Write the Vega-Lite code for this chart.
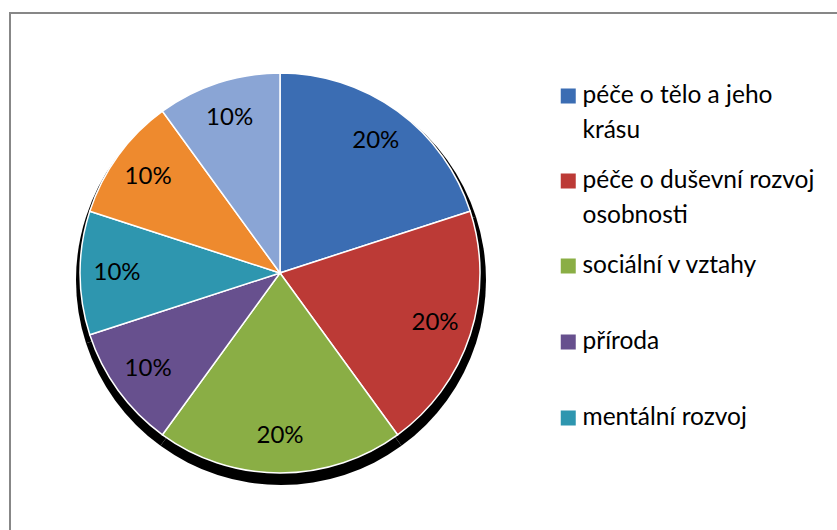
{
  "$schema": "https://vega.github.io/schema/vega-lite/v6.json",
  "width": 837,
  "height": 530,
  "autosize": {"type": "fit", "contains": "padding"},
  "padding": {"left": 10, "top": 13, "right": -2, "bottom": -2},
  "background": "white",
  "view": {"stroke": "#878787", "strokeWidth": 2},
  "config": {
    "view": {"stroke": "#878787", "strokeWidth": 2},
    "font": "Lato",
    "style": {"guide-label": {"lineHeight": 35}}
  },
  "data": {
    "values": [
      {"kategorie": "péče o tělo a jeho krásu", "poradi": 1, "podil": 0.2},
      {"kategorie": "péče o duševní rozvoj osobnosti", "poradi": 2, "podil": 0.2},
      {"kategorie": "sociální v vztahy", "poradi": 3, "podil": 0.2},
      {"kategorie": "příroda", "poradi": 4, "podil": 0.1},
      {"kategorie": "mentální rozvoj", "poradi": 5, "podil": 0.1},
      {"kategorie": "kultura", "poradi": 6, "podil": 0.1},
      {"kategorie": "ostatní", "poradi": 7, "podil": 0.1}
    ]
  },
  "encoding": {
    "theta": {"field": "podil", "type": "quantitative", "stack": true},
    "order": {"field": "poradi", "type": "quantitative"}
  },
  "layer": [
    {
      "mark": {"type": "arc", "radius": 205, "x": 271, "y": 267, "color": "black"}
    },
    {
      "mark": {"type": "arc", "radius": 200, "x": 270, "y": 260, "stroke": "white", "strokeWidth": 1.5},
      "encoding": {
        "color": {
          "field": "kategorie",
          "type": "nominal",
          "sort": ["péče o tělo a jeho krásu", "péče o duševní rozvoj osobnosti", "sociální v vztahy", "příroda", "mentální rozvoj", "kultura", "ostatní"],
          "scale": {
            "domain": ["péče o tělo a jeho krásu", "péče o duševní rozvoj osobnosti", "sociální v vztahy", "příroda", "mentální rozvoj", "kultura", "ostatní"],
            "range": ["#3B6DB3", "#BC3A36", "#8AAE45", "#67508E", "#2E96AF", "#EE8A2E", "#8AA5D5"]
          },
          "legend": {
            "values": ["péče o tělo a jeho krásu", "péče o duševní rozvoj osobnosti", "sociální v vztahy", "příroda", "mentální rozvoj"],
            "title": null,
            "orient": "none",
            "legendX": 546,
            "legendY": 45,
            "padding": 0,
            "rowPadding": 0,
            "clipHeight": 76,
            "symbolType": "square",
            "symbolSize": 225,
            "symbolStrokeWidth": 0,
            "labelFont": "Lato",
            "labelFontSize": 24.5,
            "labelColor": "black",
            "labelOffset": 2,
            "labelLimit": 400,
            "labelBaseline": "middle",
            "labelExpr": "datum.label == 'péče o tělo a jeho krásu' ? ['péče o tělo a jeho', 'krásu'] : datum.label == 'péče o duševní rozvoj osobnosti' ? ['péče o duševní rozvoj', 'osobnosti'] : datum.label"
          }
        }
      }
    },
    {
      "mark": {"type": "text", "radius": 163, "x": 270, "y": 260, "font": "Lato", "fontSize": 24, "color": "black"},
      "encoding": {
        "text": {"field": "podil", "type": "quantitative", "format": ".0%"}
      }
    }
  ]
}
